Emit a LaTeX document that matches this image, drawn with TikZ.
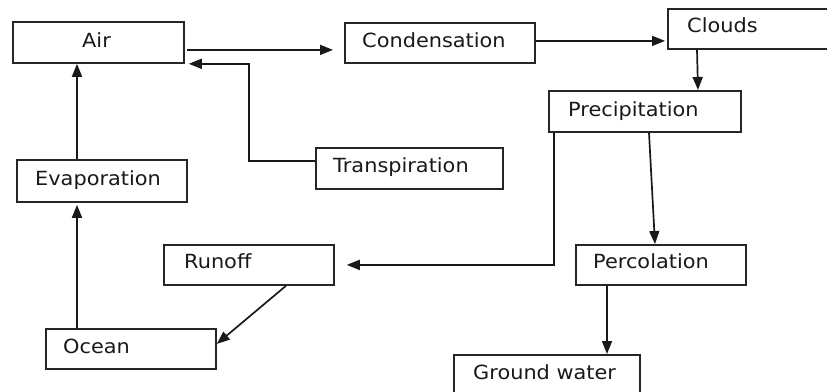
\documentclass[tikz,border=0pt]{standalone}
\usepackage{fontspec}
\setmainfont[FakeStretch=1.07]{DejaVu Sans}
\usetikzlibrary{arrows.meta}
\tikzset{
  box/.style={draw=black!85, line width=1.8pt, fill=white, inner sep=0pt, anchor=north west},
  lbl/.style={anchor=base west, inner sep=0pt, text=black!90, font=\fontsize{19.5}{22}\selectfont},
  arr/.style={draw=black!90, line width=1.7pt, -{Triangle[length=13pt,width=10pt]}}
}
\begin{document}
\begin{tikzpicture}[x=1pt,y=-1pt]
\useasboundingbox (0,0) rectangle (827,391);
\clip (0,0) rectangle (827,391);
% boxes
\node[box, minimum width=171pt, minimum height=41pt] (air) at (12,21) {};
\node[box, minimum width=190pt, minimum height=40pt] (cond) at (344,22) {};
\node[box, minimum width=183pt, minimum height=40pt] (clouds) at (667,8) {};
\node[box, minimum width=192pt, minimum height=41pt] (precip) at (548,90) {};
\node[box, minimum width=187pt, minimum height=41pt] (trans) at (315,147) {};
\node[box, minimum width=170pt, minimum height=42pt] (evap) at (16,159) {};
\node[box, minimum width=170pt, minimum height=40pt] (runoff) at (163,244) {};
\node[box, minimum width=170pt, minimum height=40pt] (perc) at (575,244) {};
\node[box, minimum width=170pt, minimum height=40pt] (ocean) at (45,328) {};
\node[box, minimum width=186pt, minimum height=60pt] (ground) at (453,354) {};
% labels
\node[lbl] (airT) at (82,47.3) {Air};
\node[lbl] (condT) at (362,47) {Condensation};
\node[lbl] (cloudsT) at (687,32.3) {Clouds};
\node[lbl] (precipT) at (568,116.7) {Precipitation};
\node[lbl] (transT) at (333,172.5) {Transpiration};
\node[lbl] (evapT) at (35,185.7) {Evaporation};
\node[lbl] (runoffT) at (184,268.3) {Runoff};
\node[lbl] (percT) at (593,268) {Percolation};
\node[lbl] (oceanT) at (63,353.3) {Ocean};
\node[lbl] (groundT) at (473,379.2) {Ground water};
% connectors
\coordinate (a1) at ([xshift=2pt,yshift=-7.5pt]air.east);
\draw[arr, shorten >=11pt] (a1) -- (a1 -| cond.west);
\coordinate (t1) at ([yshift=7.5pt]trans.west);
\coordinate (t2) at ([xshift=4pt]air.south east);
\draw[arr] (t1) -- ++(-66,0) |- (t2);
\coordinate (c1) at ([yshift=2pt]cond.east);
\draw[arr, shorten >=2pt] (c1) -- (c1 -| clouds.west);
\draw[arr] ([xshift=30pt]clouds.south west) -- ([xshift=150pt]precip.north west);
\draw[arr] ([xshift=101pt]precip.south west) -- ([xshift=80pt]perc.north west);
\draw[arr, shorten >=12pt] ([xshift=6pt]precip.south west) |- (runoff.east);
\coordinate (p1) at ([xshift=32pt]perc.south west);
\draw[arr] (p1) -- (p1 |- ground.north);
\draw[arr] ([xshift=123pt]runoff.south west) -- ([yshift=5pt]ocean.east);
\coordinate (o1) at ([xshift=32pt]ocean.north west);
\draw[arr, shorten >=2pt] (o1) -- (o1 |- evap.south);
\coordinate (e1) at ([xshift=61pt]evap.north west);
\draw[arr] (e1) -- (e1 |- air.south);
\end{tikzpicture}
\end{document}
